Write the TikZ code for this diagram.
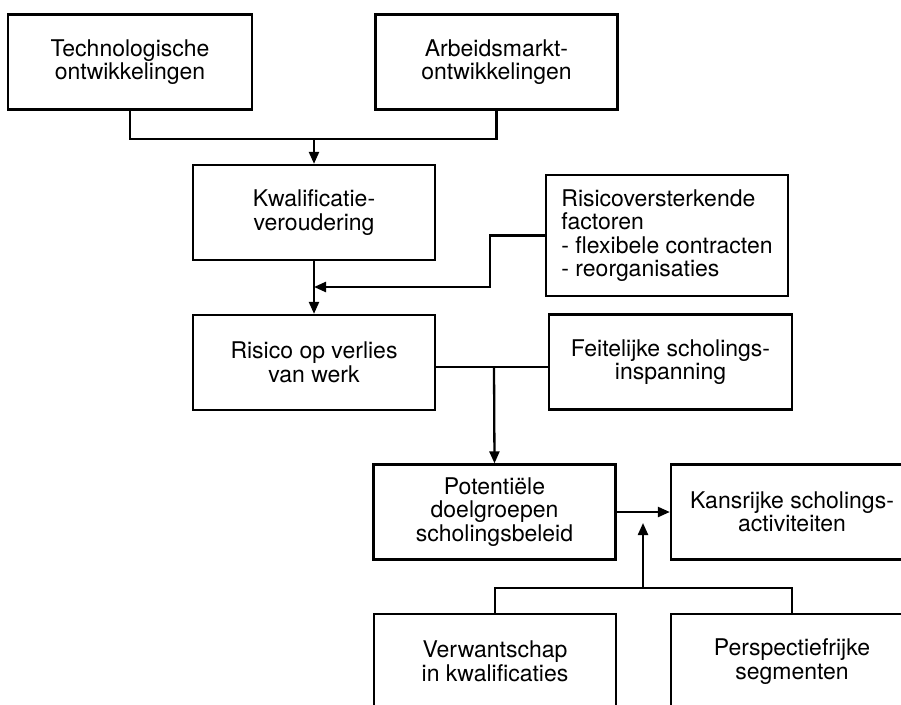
\documentclass[tikz,border=0pt]{standalone}
\usepackage{fontspec}
\setmainfont{TeX Gyre Heros}
\usetikzlibrary{arrows.meta}
\begin{document}
\begin{tikzpicture}[x=1pt, y=-1pt, line width=2.3pt,
    main/.style = {draw, rectangle, minimum width=242pt, minimum height=95pt, align=center, inner sep=0pt, font=\fontsize{23}{23.5}\selectfont},
    >={Triangle[length=12pt, width=10pt]}]
    \useasboundingbox (0,0) rectangle (901,704);
    \clip (0,0) rectangle (901,704);
    \node[main, minimum width=244pt] (1) at (130,62) {Technologische\\ontwikkelingen};
    \node[main] (2) at (496.5,62) {Arbeidsmarkt-\\ontwikkelingen};
    \node[main] (3) at (314,212.5) {Kwalificatie-\\veroudering};
    \node[main, minimum height=121pt, align=left] (4) at (667,235.5) {Risicoversterkende\\factoren\\- flexibele contracten\\- reorganisaties};
    \node[main] (5) at (314,362.5) {Risico op verlies\\van werk};
    \node[main, minimum width=243pt] (6) at (670.5,362) {Feitelijke scholings-\\inspanning};
    \node[main] (7) at (494.5,512) {Potenti\"ele\\doelgroepen\\scholingsbeleid};
    \node[main] (8) at (792,512) {Kansrijke scholings-\\activiteiten};
    \node[main] (9) at (495,661.5) {Verwantschap\\in kwalificaties};
    \node[main] (10) at (792,661.5) {Perspectiefrijke\\segmenten};
    \coordinate (a) at (314,139);
    \coordinate (b) at (490,287);
    \coordinate (c) at (314,287);
    \coordinate (d) at (494,367);
    \coordinate (e) at (643,588);
    \coordinate (f) at (643,523);
    \draw (1.south) |- (a) -| (2.south);
    \draw[->] (a) -- (3.north);
    \draw[->] (3.south) -- (5.north);
    \draw[->] (4.west) -| (b) -- (c);
    \draw (5.east |- d) -- (6.west |- d);
    \draw[->] (d) -- (7.north);
    \draw[->] (7.east) -- (8.west);
    \draw (9.north) |- (e) -| (10.north);
    \draw[->] (e) -- (f);
\end{tikzpicture}
\end{document}
